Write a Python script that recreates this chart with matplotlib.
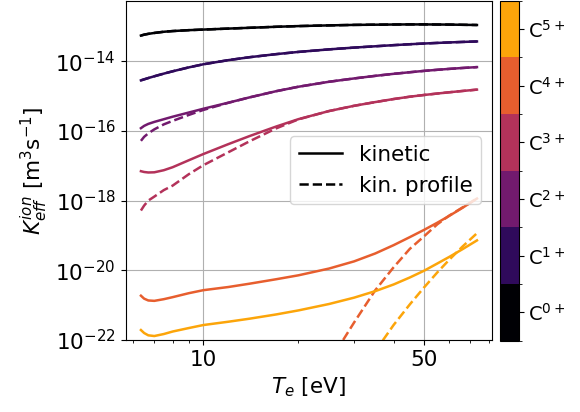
import numpy as np
import matplotlib
matplotlib.use('Agg')
import matplotlib.pyplot as plt
from matplotlib.colors import ListedColormap, BoundaryNorm
from matplotlib.cm import ScalarMappable
from matplotlib.ticker import NullLocator, NullFormatter, FixedLocator, FixedFormatter

# Electron temperature grid [eV]
Te = [6.35, 6.5, 6.7, 7, 7.5, 8, 9, 10, 12, 14, 17, 20, 25, 30, 35, 40, 45, 50, 55, 60, 66, 73.4]

# log10 of effective ionisation rate coefficient [m^3/s], kinetic
kin_c0 = [-13.266, -13.240, -13.217, -13.191, -13.157, -13.137, -13.111, -13.094, -13.066, -13.043, -13.014,
          -12.994, -12.974, -12.960, -12.954, -12.949, -12.946, -12.946, -12.949, -12.951, -12.957, -12.963]
kin_c1 = [-14.551, -14.522, -14.485, -14.434, -14.358, -14.291, -14.179, -14.090, -13.971, -13.887, -13.799,
          -13.735, -13.662, -13.611, -13.573, -13.541, -13.515, -13.494, -13.477, -13.463, -13.449, -13.435]
kin_c2 = [-15.923, -15.857, -15.800, -15.743, -15.666, -15.594, -15.474, -15.366, -15.192, -15.040, -14.862,
          -14.734, -14.591, -14.496, -14.422, -14.364, -14.318, -14.279, -14.248, -14.222, -14.196, -14.171]
kin_c3 = [-17.157, -17.180, -17.194, -17.189, -17.129, -17.043, -16.843, -16.666, -16.381, -16.150, -15.876,
          -15.664, -15.431, -15.281, -15.174, -15.087, -15.020, -14.970, -14.929, -14.893, -14.856, -14.817]
kin_c4 = [-20.729, -20.814, -20.866, -20.877, -20.829, -20.771, -20.657, -20.571, -20.480, -20.385, -20.257,
          -20.144, -19.950, -19.744, -19.517, -19.279, -19.049, -18.838, -18.635, -18.438, -18.210, -17.942]
kin_c5 = [-21.714, -21.800, -21.866, -21.886, -21.829, -21.757, -21.657, -21.571, -21.476, -21.389, -21.267,
          -21.151, -20.967, -20.785, -20.598, -20.407, -20.207, -20.010, -19.805, -19.616, -19.397, -19.143]

# log10 of rate coefficient with kinetic profile
nan = np.nan
prof_c0 = kin_c0
prof_c1 = kin_c1
prof_c2 = [-16.286, -16.171, -16.071, -15.957, -15.814, -15.714, -15.543, -15.400, -15.195, -15.040, -14.862,
           -14.734, -14.591, -14.496, -14.422, -14.364, -14.318, -14.279, -14.248, -14.222, -14.196, -14.171]
prof_c3 = [-18.286, -18.143, -18.000, -17.886, -17.700, -17.571, -17.243, -16.986, -16.614, -16.300, -15.929,
           -15.670, -15.431, -15.281, -15.174, -15.087, -15.020, -14.970, -14.929, -14.893, -14.856, -14.817]
prof_c4 = [nan, nan, nan, nan, nan, nan, nan, nan, nan, nan, nan,
           nan, -22.643, -21.497, -20.571, -19.914, -19.386, -19.020, -18.680, -18.430, -18.200, -17.940]
prof_c5 = [nan, nan, nan, nan, nan, nan, nan, nan, nan, nan, nan,
           nan, nan, nan, -22.320, -21.569, -20.980, -20.486, -20.060, -19.697, -19.323, -18.937]

kinetic = [kin_c0, kin_c1, kin_c2, kin_c3, kin_c4, kin_c5]
profile = [prof_c0, prof_c1, prof_c2, prof_c3, prof_c4, prof_c5]
labels = ['C$^{0+}$', 'C$^{1+}$', 'C$^{2+}$', 'C$^{3+}$', 'C$^{4+}$', 'C$^{5+}$']

colors = plt.cm.inferno(np.linspace(0, 0.8, len(labels)))
fs = 15.5

fig = plt.figure(figsize=(5.8, 4.12), dpi=100)
W, H = 580, 412
ax = fig.add_axes([125.5 / W, (H - 340) / H, (492 - 125.5) / W, 339.5 / H])
cax = fig.add_axes([499.5 / W, (H - 340.5) / H, 19 / W, 340 / H])

for i in range(len(labels)):
    ax.plot(Te, 10 ** np.array(kinetic[i]), color=colors[i], lw=1.8, ls='-')
    ax.plot(Te, 10 ** np.array(profile[i]), color=colors[i], lw=1.8, ls='--')

ax.set_xscale('log')
ax.set_yscale('log')
ax.set_xlim(5.675, 81.9)
ax.set_ylim(1e-22, 10 ** -12.26)

ax.xaxis.set_major_locator(FixedLocator([10, 50]))
ax.xaxis.set_major_formatter(FixedFormatter(['10', '50']))
ax.xaxis.set_minor_formatter(NullFormatter())
ax.yaxis.set_major_locator(FixedLocator([1e-22, 1e-20, 1e-18, 1e-16, 1e-14]))
ax.yaxis.set_minor_locator(NullLocator())
ax.tick_params(labelsize=fs)
ax.grid(True, which='major')

ax.set_xlabel('$T_e$ [eV]', fontsize=fs)
ax.set_ylabel('$K_{eff}^{ion}$ [m$^3$s$^{-1}$]', fontsize=fs)

ax.plot([], [], color='k', lw=1.8, ls='-', label='kinetic')
ax.plot([], [], color='k', lw=1.8, ls='--', label='kin. profile')
ax.legend(loc='center right', fontsize=fs)

cmap = ListedColormap(colors)
norm = BoundaryNorm(np.arange(-0.5, len(labels)), cmap.N)
sm = ScalarMappable(cmap=cmap, norm=norm)
cb = fig.colorbar(sm, cax=cax, ticks=range(len(labels)))
cb.set_ticklabels(labels)
cb.ax.tick_params(labelsize=14)

fig.savefig('out.png', dpi=100)
